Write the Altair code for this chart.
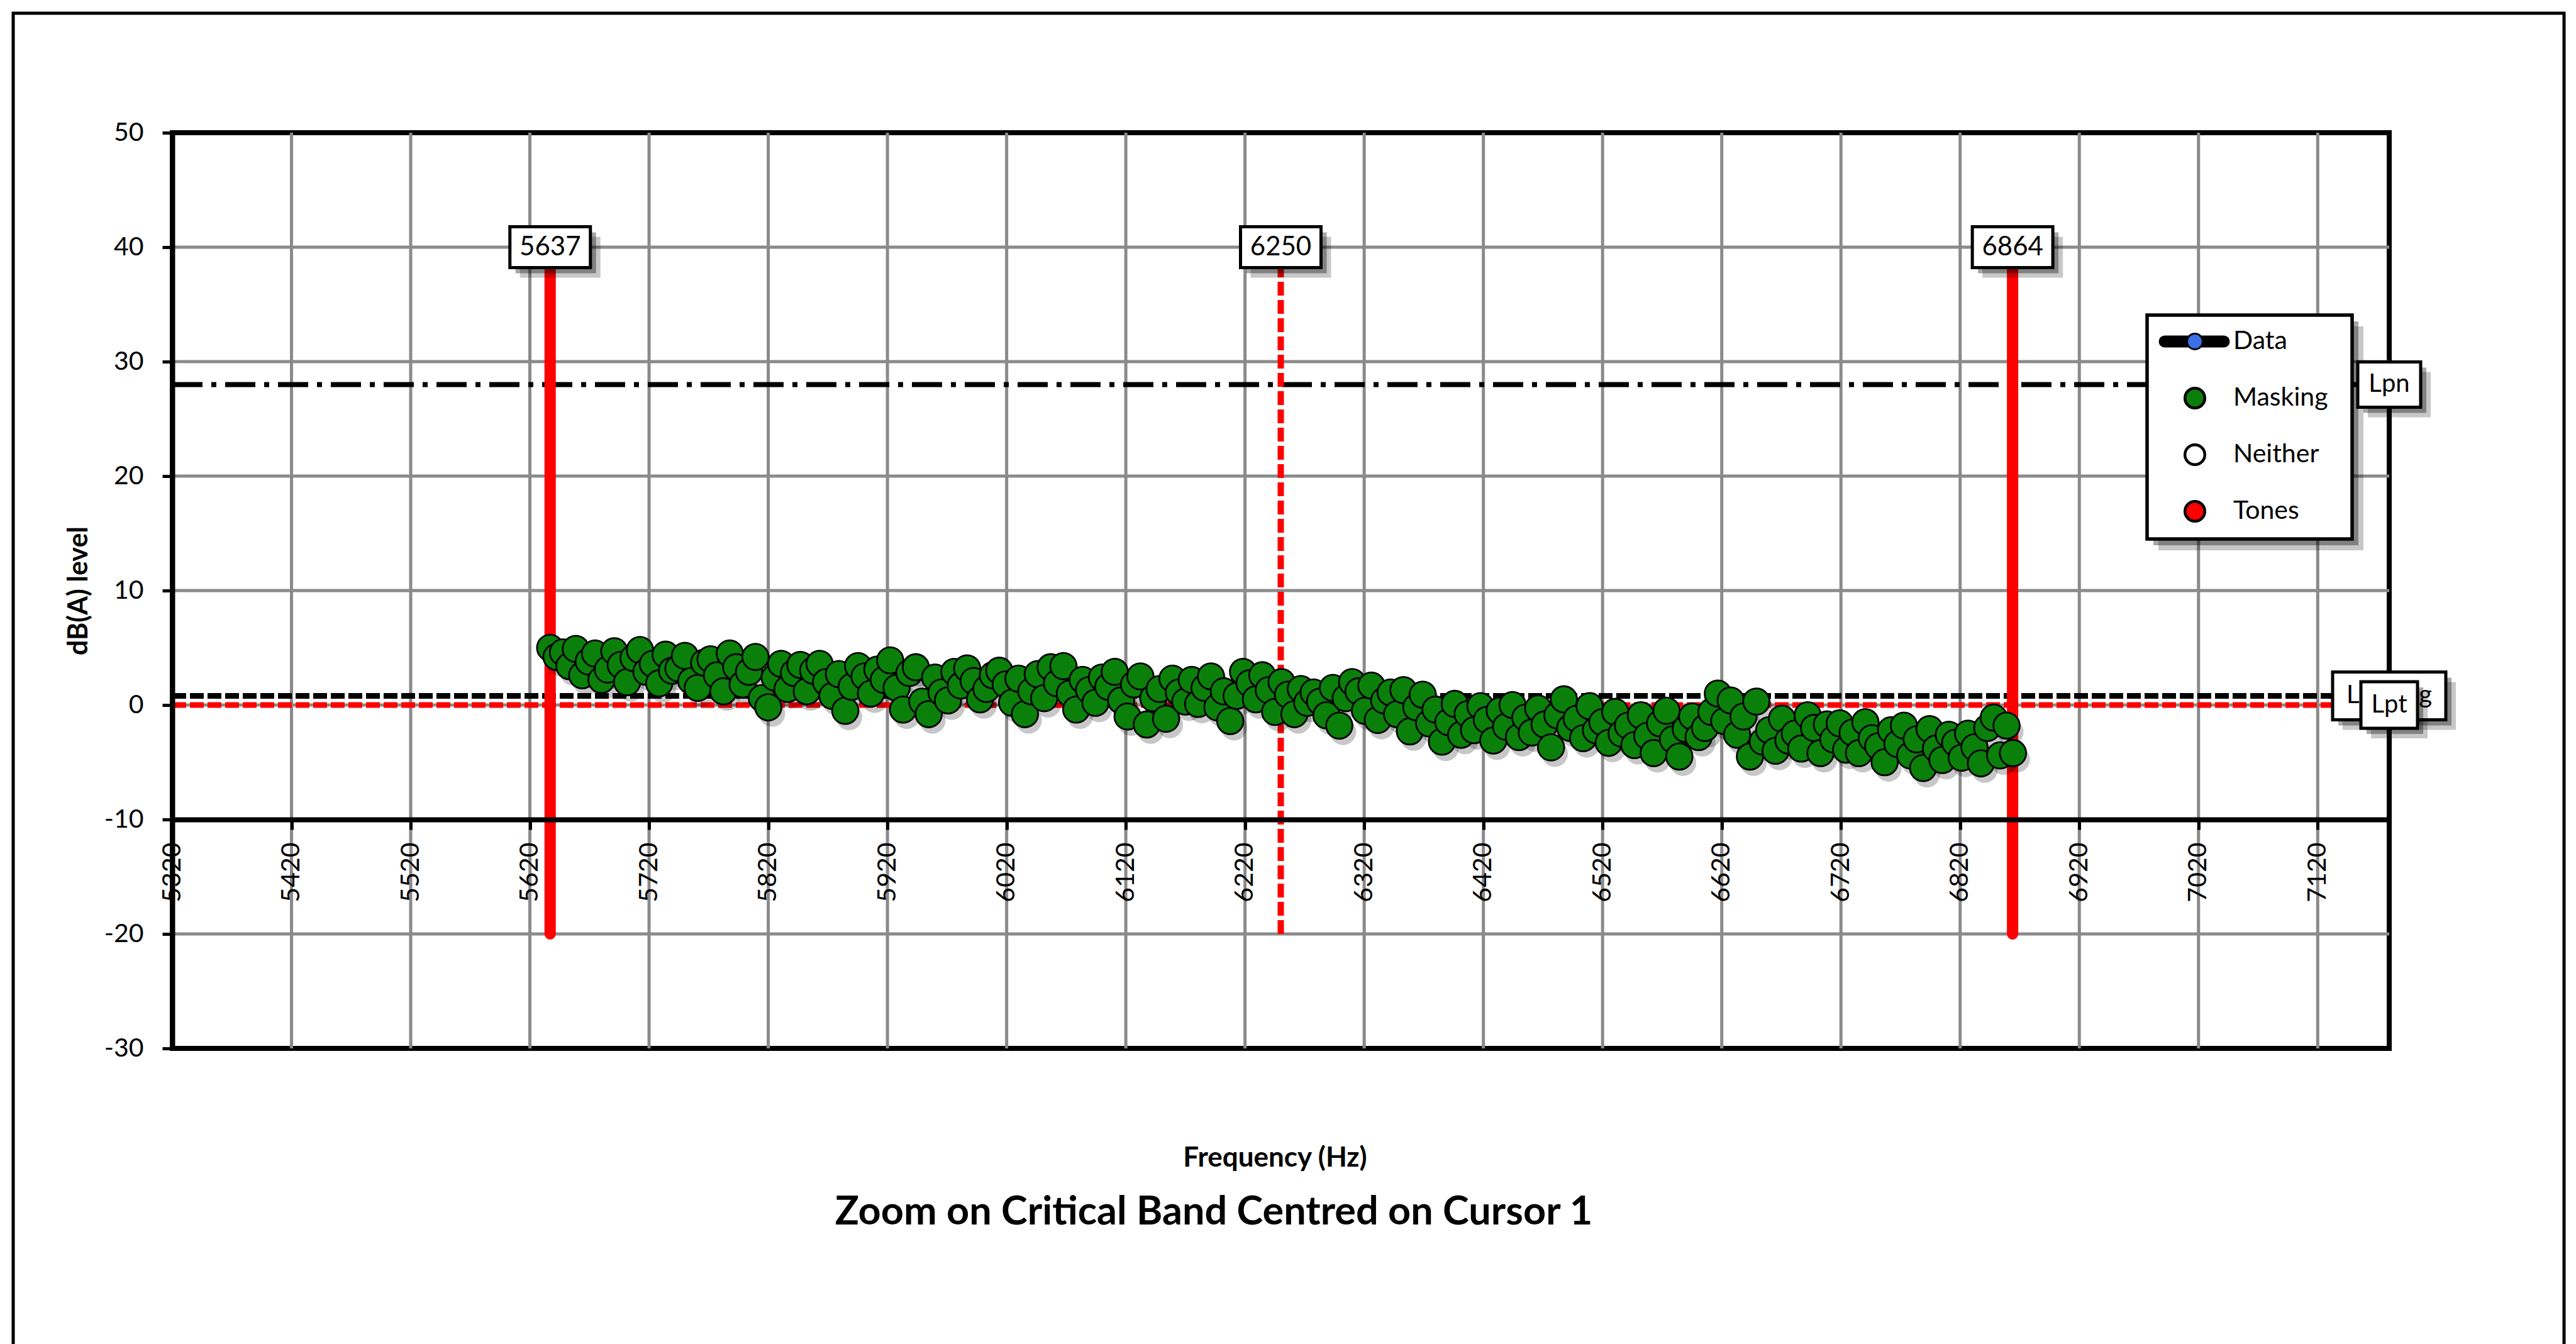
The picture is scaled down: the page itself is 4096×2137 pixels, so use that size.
import altair as alt
import pandas as pd

# ---------------------------------------------------------------- data
# Spectral lines inside the critical band: first line and bin spacing (Hz)
BIN_START_HZ = 5637.0
BIN_WIDTH_HZ = 5.383
# Level of every spectral line classified as masking noise, dB(A)
masking_levels = [
    5.0, 4.2, 4.6, 3.4, 4.9, 2.6, 3.8, 4.5, 2.2, 3.1, 4.7, 3.5, 2.0, 4.1, 4.8, 2.9, 3.6, 1.9, 4.4, 3.0,
    3.2, 4.3, 2.1, 1.5, 3.7, 4.0, 2.6, 1.2, 4.5, 3.3, 1.8, 2.9, 4.2, 0.6, -0.2, 2.4, 3.6, 1.4, 2.8, 3.5,
    1.2, 3.0, 3.6, 2.0, 0.8, 2.7, -0.5, 1.6, 3.4, 2.5, 1.0, 3.1, 2.2, 3.9, 1.5, -0.4, 2.8, 3.3, 0.3, -0.8,
    2.4, 1.1, 0.4, 2.9, 1.7, 3.2, 2.1, 0.5, 1.4, 2.6, 3.0, 1.8, 0.2, 2.3, -0.8, 1.2, 2.7, 0.6, 3.3, 1.9,
    3.4, 1.0, -0.4, 2.2, 1.3, 0.2, 2.4, 1.6, 2.9, 0.4, -1.0, 1.8, 2.5, -1.7, 0.6, 1.4, -1.2, 2.3, 1.1, 0.3,
    2.2, 0.1, 1.5, 2.5, -0.2, 1.2, -1.4, 0.8, 2.9, 1.9, 0.5, 2.6, 1.3, -0.6, 2.0, 0.9, -0.8, 1.4, 0.2, 1.1,
    0.3, -0.9, 1.5, -1.8, 0.6, 2.0, 1.2, -0.5, 1.7, -1.3, 0.4, 1.1, -0.8, 1.3, -2.3, -0.2, 0.9, -1.6, -0.4, -3.2,
    -1.5, 0.1, -2.6, -0.8, -2.2, -0.1, -1.3, -3.1, -0.5, -1.9, 0.0, -2.8, -1.1, -2.4, -0.3, -1.7, -3.7, -0.9, 0.5, -2.0,
    -1.2, -2.9, -0.1, -2.2, -1.5, -3.3, -0.6, -2.5, -1.8, -3.5, -0.9, -2.7, -4.2, -1.6, -0.5, -3.0, -4.5, -2.1, -1.0, -2.8,
    -2.0, -0.6, 1.0, -1.4, 0.4, -2.6, -1.0, -4.5, 0.3, -3.2, -2.2, -4.0, -1.2, -3.1, -2.5, -3.8, -0.9, -2.0, -4.2, -1.7,
    -3.0, -1.6, -3.9, -2.4, -4.2, -1.5, -2.9, -3.6, -5.0, -2.2, -3.4, -1.8, -4.4, -3.0, -5.5, -2.1, -3.8, -4.8, -2.6, -3.3,
    -4.6, -2.5, -3.7, -5.1, -2.0, -1.1, -4.4, -1.8, -4.2,
]

# Cursors: lower band edge, centre, upper band edge (Hz)
cursor_freqs = [5637, 6250, 6864]
cursor_kind = ["edge", "centre", "edge"]
CURSOR_TOP = 40
CURSOR_BOTTOM = -20

# Reference levels, dB(A)
ref_names = ["Lpn", "Lpn avg", "Lpt"]
ref_levels = [28.0, 0.8, 0.0]

x_ticks = list(range(5320, 7121, 100))
y_ticks = list(range(-30, 51, 10))
X_DOMAIN = [5320, 7180]
Y_DOMAIN = [-30, 50]
X_AXIS_AT = -10

legend_names = ["Data", "Masking", "Neither", "Tones"]
legend_fills = ["#3b6fe6", "#0a800a", "#ffffff", "#ff0000"]

# ---------------------------------------------------------------- layout
PAD_L, PAD_T = 274, 211
PLOT_W, PLOT_H = 3525, 1456
PAD_R = 4096 - PAD_L - PLOT_W
PAD_B = 2137 - PAD_T - PLOT_H
FONT = "Lato"
GRID = "#8a8a8a"
RED = "#ff0000"
GREEN = "#0a800a"
POINT_SIZE = 1750

x_axis_offset = -(X_AXIS_AT - Y_DOMAIN[0]) / (Y_DOMAIN[1] - Y_DOMAIN[0]) * PLOT_H

xs = alt.Scale(domain=X_DOMAIN, nice=False, zero=False)
ys = alt.Scale(domain=Y_DOMAIN, nice=False, zero=False)

xaxis = alt.Axis(
    values=x_ticks, grid=False, offset=x_axis_offset, format="d",
    domainColor="black", domainWidth=8, tickColor="black", tickWidth=5, tickSize=16,
    labelAngle=270, labelAlign="right", labelBaseline="middle", labelPadding=20,
    labelFont=FONT, labelFontSize=41, labelColor="black",
    labelOverlap=False, labelFlush=False, labelBound=False,
    title="Frequency (Hz)", titleFont=FONT, titleFontSize=44, titleFontWeight="bold",
    titleColor="black", titleX=1753, titleY=538, titleAlign="center", titleBaseline="middle",
    zindex=1,
)
yaxis = alt.Axis(
    values=y_ticks, grid=False, labelExpr="'' + datum.value",
    domainColor="black", domainWidth=8, tickColor="black", tickWidth=5, tickSize=16,
    labelFont=FONT, labelFontSize=41, labelColor="black", labelPadding=30,
    labelOverlap=False, labelFlush=False,
    title="dB(A) level", titleFont=FONT, titleFontSize=43, titleFontWeight="bold",
    titleColor="black", titleAngle=270, titleX=-149, titleY=PLOT_H / 2,
    titleAlign="center", titleBaseline="middle",
    zindex=1,
)


def X(field):
    return alt.X(field, type="quantitative", scale=xs, axis=xaxis)


def Y(field):
    return alt.Y(field, type="quantitative", scale=ys, axis=yaxis)


one = pd.DataFrame({"k": [0]})

# ---------------------------------------------------------------- tables
freqs = [BIN_START_HZ + i * BIN_WIDTH_HZ for i in range(len(masking_levels))]
points_df = pd.DataFrame({"freq": freqs, "level": masking_levels})

cursor_df = pd.DataFrame({
    "freq": cursor_freqs, "kind": cursor_kind,
    "top": CURSOR_TOP, "bottom": CURSOR_BOTTOM,
})
ref_df = pd.DataFrame({
    "name": ref_names, "level": ref_levels,
    "f0": X_DOMAIN[0], "f1": X_DOMAIN[1],
})
vgrid_df = pd.DataFrame({"f": [t for t in x_ticks if t > X_DOMAIN[0]]})
hgrid_df = pd.DataFrame({"v": [t for t in y_ticks if Y_DOMAIN[0] < t < Y_DOMAIN[1] and t != X_AXIS_AT]})


def box_shape(w, h):
    r = h / w
    return f"M-1,{-r:.4f}L1,{-r:.4f}L1,{r:.4f}L-1,{r:.4f}Z"


def label_box(data, xenc, yenc, text_enc, w, h, font_size):
    """White call-out box with a soft drop shadow and a centred label."""
    shape = box_shape(w, h)
    base = alt.Chart(data).encode(x=xenc, y=yenc)
    return [
        base.mark_point(shape=shape, size=w * w, filled=True, color="#000000",
                        fillOpacity=0.22, strokeWidth=0, xOffset=16, yOffset=16),
        base.mark_point(shape=shape, size=w * w, filled=True, color="#000000",
                        fillOpacity=0.35, strokeWidth=0, xOffset=9, yOffset=9),
        base.mark_point(shape=shape, size=w * w, filled=True, fill="white",
                        stroke="black", strokeWidth=5, opacity=1),
        base.mark_text(font=FONT, fontSize=font_size, color="black",
                       align="center", baseline="middle").encode(text=text_enc),
    ]


layers = []

# grid
layers.append(alt.Chart(vgrid_df).mark_rule(color=GRID, strokeWidth=5).encode(
    x=X("f"), y=alt.value(0), y2=alt.value(PLOT_H)))
layers.append(alt.Chart(hgrid_df).mark_rule(color=GRID, strokeWidth=5).encode(
    y=Y("v"), x=alt.value(0), x2=alt.value(PLOT_W)))

# reference levels
ref_styles = {
    "Lpn": dict(color="black", strokeWidth=8, strokeDash=[48, 14, 8, 14]),
    "Lpn avg": dict(color="black", strokeWidth=9, strokeDash=[22, 6]),
    "Lpt": dict(color=RED, strokeWidth=9, strokeDash=[22, 6]),
}
for name in ref_names:
    layers.append(alt.Chart(ref_df).transform_filter(alt.datum.name == name)
                  .mark_rule(**ref_styles[name])
                  .encode(x=X("f0"), x2="f1", y=Y("level")))

# cursors
layers.append(alt.Chart(cursor_df).transform_filter(alt.datum.kind == "edge")
              .mark_rule(color=RED, strokeWidth=18, strokeCap="round")
              .encode(x=X("freq"), y=Y("bottom"), y2="top"))
layers.append(alt.Chart(cursor_df).transform_filter(alt.datum.kind == "centre")
              .mark_rule(color=RED, strokeWidth=10, strokeDash=[22, 7])
              .encode(x=X("freq"), y=Y("bottom"), y2="top"))

# masking spectral lines, with a soft drop shadow
layers.append(alt.Chart(points_df).mark_circle(size=POINT_SIZE, color="#000000", opacity=0.22,
                                               xOffset=6, yOffset=10)
              .encode(x=X("freq"), y=Y("level")))
layers.append(alt.Chart(points_df).mark_point(size=POINT_SIZE, filled=True, fill=GREEN, stroke="black",
                                              strokeWidth=2.8, opacity=1)
              .encode(x=X("freq"), y=Y("level")))

# cursor call-outs
layers += label_box(cursor_df, X("freq"), Y("top"), alt.Text("freq:Q", format="d"), 128, 65, 42)

# legend
LG_X0, LG_X1, LG_Y0, LG_Y1 = 3140, 3466, 290, 646
LG_SYM_X, LG_TXT_X = 3216, 3277
LG_ROW0, LG_ROW_STEP = 332, 90
for dx, op in [(18, 0.22), (10, 0.35)]:
    layers.append(alt.Chart(one).mark_rect(color="#000000", opacity=op).encode(
        x=alt.value(LG_X0 + dx), x2=alt.value(LG_X1 + dx),
        y=alt.value(LG_Y0 + dx), y2=alt.value(LG_Y1 + dx)))
layers.append(alt.Chart(one).mark_rect(fill="white", stroke="black", strokeWidth=5.5).encode(
    x=alt.value(LG_X0), x2=alt.value(LG_X1), y=alt.value(LG_Y0), y2=alt.value(LG_Y1)))
for i, (name, fill) in enumerate(zip(legend_names, legend_fills)):
    yy = LG_ROW0 + i * LG_ROW_STEP
    entry = pd.DataFrame({"label": [name]})
    if name == "Data":
        layers.append(alt.Chart(entry).mark_rule(color="black", strokeWidth=19, strokeCap="round")
                      .encode(x=alt.value(LG_SYM_X - 48), x2=alt.value(LG_SYM_X + 46), y=alt.value(yy)))
        layers.append(alt.Chart(entry).mark_point(size=620, filled=True, fill=fill, stroke="black",
                                                  strokeWidth=3, opacity=1)
                      .encode(x=alt.value(LG_SYM_X), y=alt.value(yy)))
    else:
        layers.append(alt.Chart(entry).mark_point(size=1000, filled=True, fill=fill, stroke="black",
                                                  strokeWidth=4.5, opacity=1)
                      .encode(x=alt.value(LG_SYM_X), y=alt.value(yy)))
    layers.append(alt.Chart(entry).mark_text(font=FONT, fontSize=41, color="black",
                                             align="left", baseline="middle")
                  .encode(x=alt.value(LG_TXT_X), y=alt.value(yy), text="label:N"))

# reference level call-outs at the right edge
ref_box_sizes = {"Lpn": (100, 72), "Lpn avg": (180, 76), "Lpt": (90, 74)}
for name in ref_names:
    w, h = ref_box_sizes[name]
    sub = ref_df[ref_df["name"] == name]
    layers += label_box(sub, X("f1"), Y("level"), alt.Text("name:N"), w, h, 40)

# chart title
layers.append(alt.Chart(pd.DataFrame({"t": ["Zoom on Critical Band Centred on Cursor 1"]}))
              .mark_text(font=FONT, fontSize=63, fontWeight="bold", color="black",
                         align="center", baseline="middle")
              .encode(x=alt.value(1656), y=alt.value(1717), text="t:N"))

# chart-area frame
layers.append(alt.Chart(one).mark_rect(fill=None, stroke="black", strokeWidth=5).encode(
    x=alt.value(-PAD_L + 21), x2=alt.value(PLOT_W + PAD_R - 19),
    y=alt.value(-PAD_T + 21), y2=alt.value(PLOT_H + PAD_B + 40)))

chart = (
    alt.layer(*layers)
    .properties(
        width=PLOT_W, height=PLOT_H,
        autosize=alt.AutoSizeParams(type="none"),
        padding={"left": PAD_L, "top": PAD_T, "right": PAD_R, "bottom": PAD_B},
        background="white",
    )
    .configure_view(stroke="black", strokeWidth=8)
)

chart.save("out.html", embed_options={"renderer": "svg", "actions": False})
